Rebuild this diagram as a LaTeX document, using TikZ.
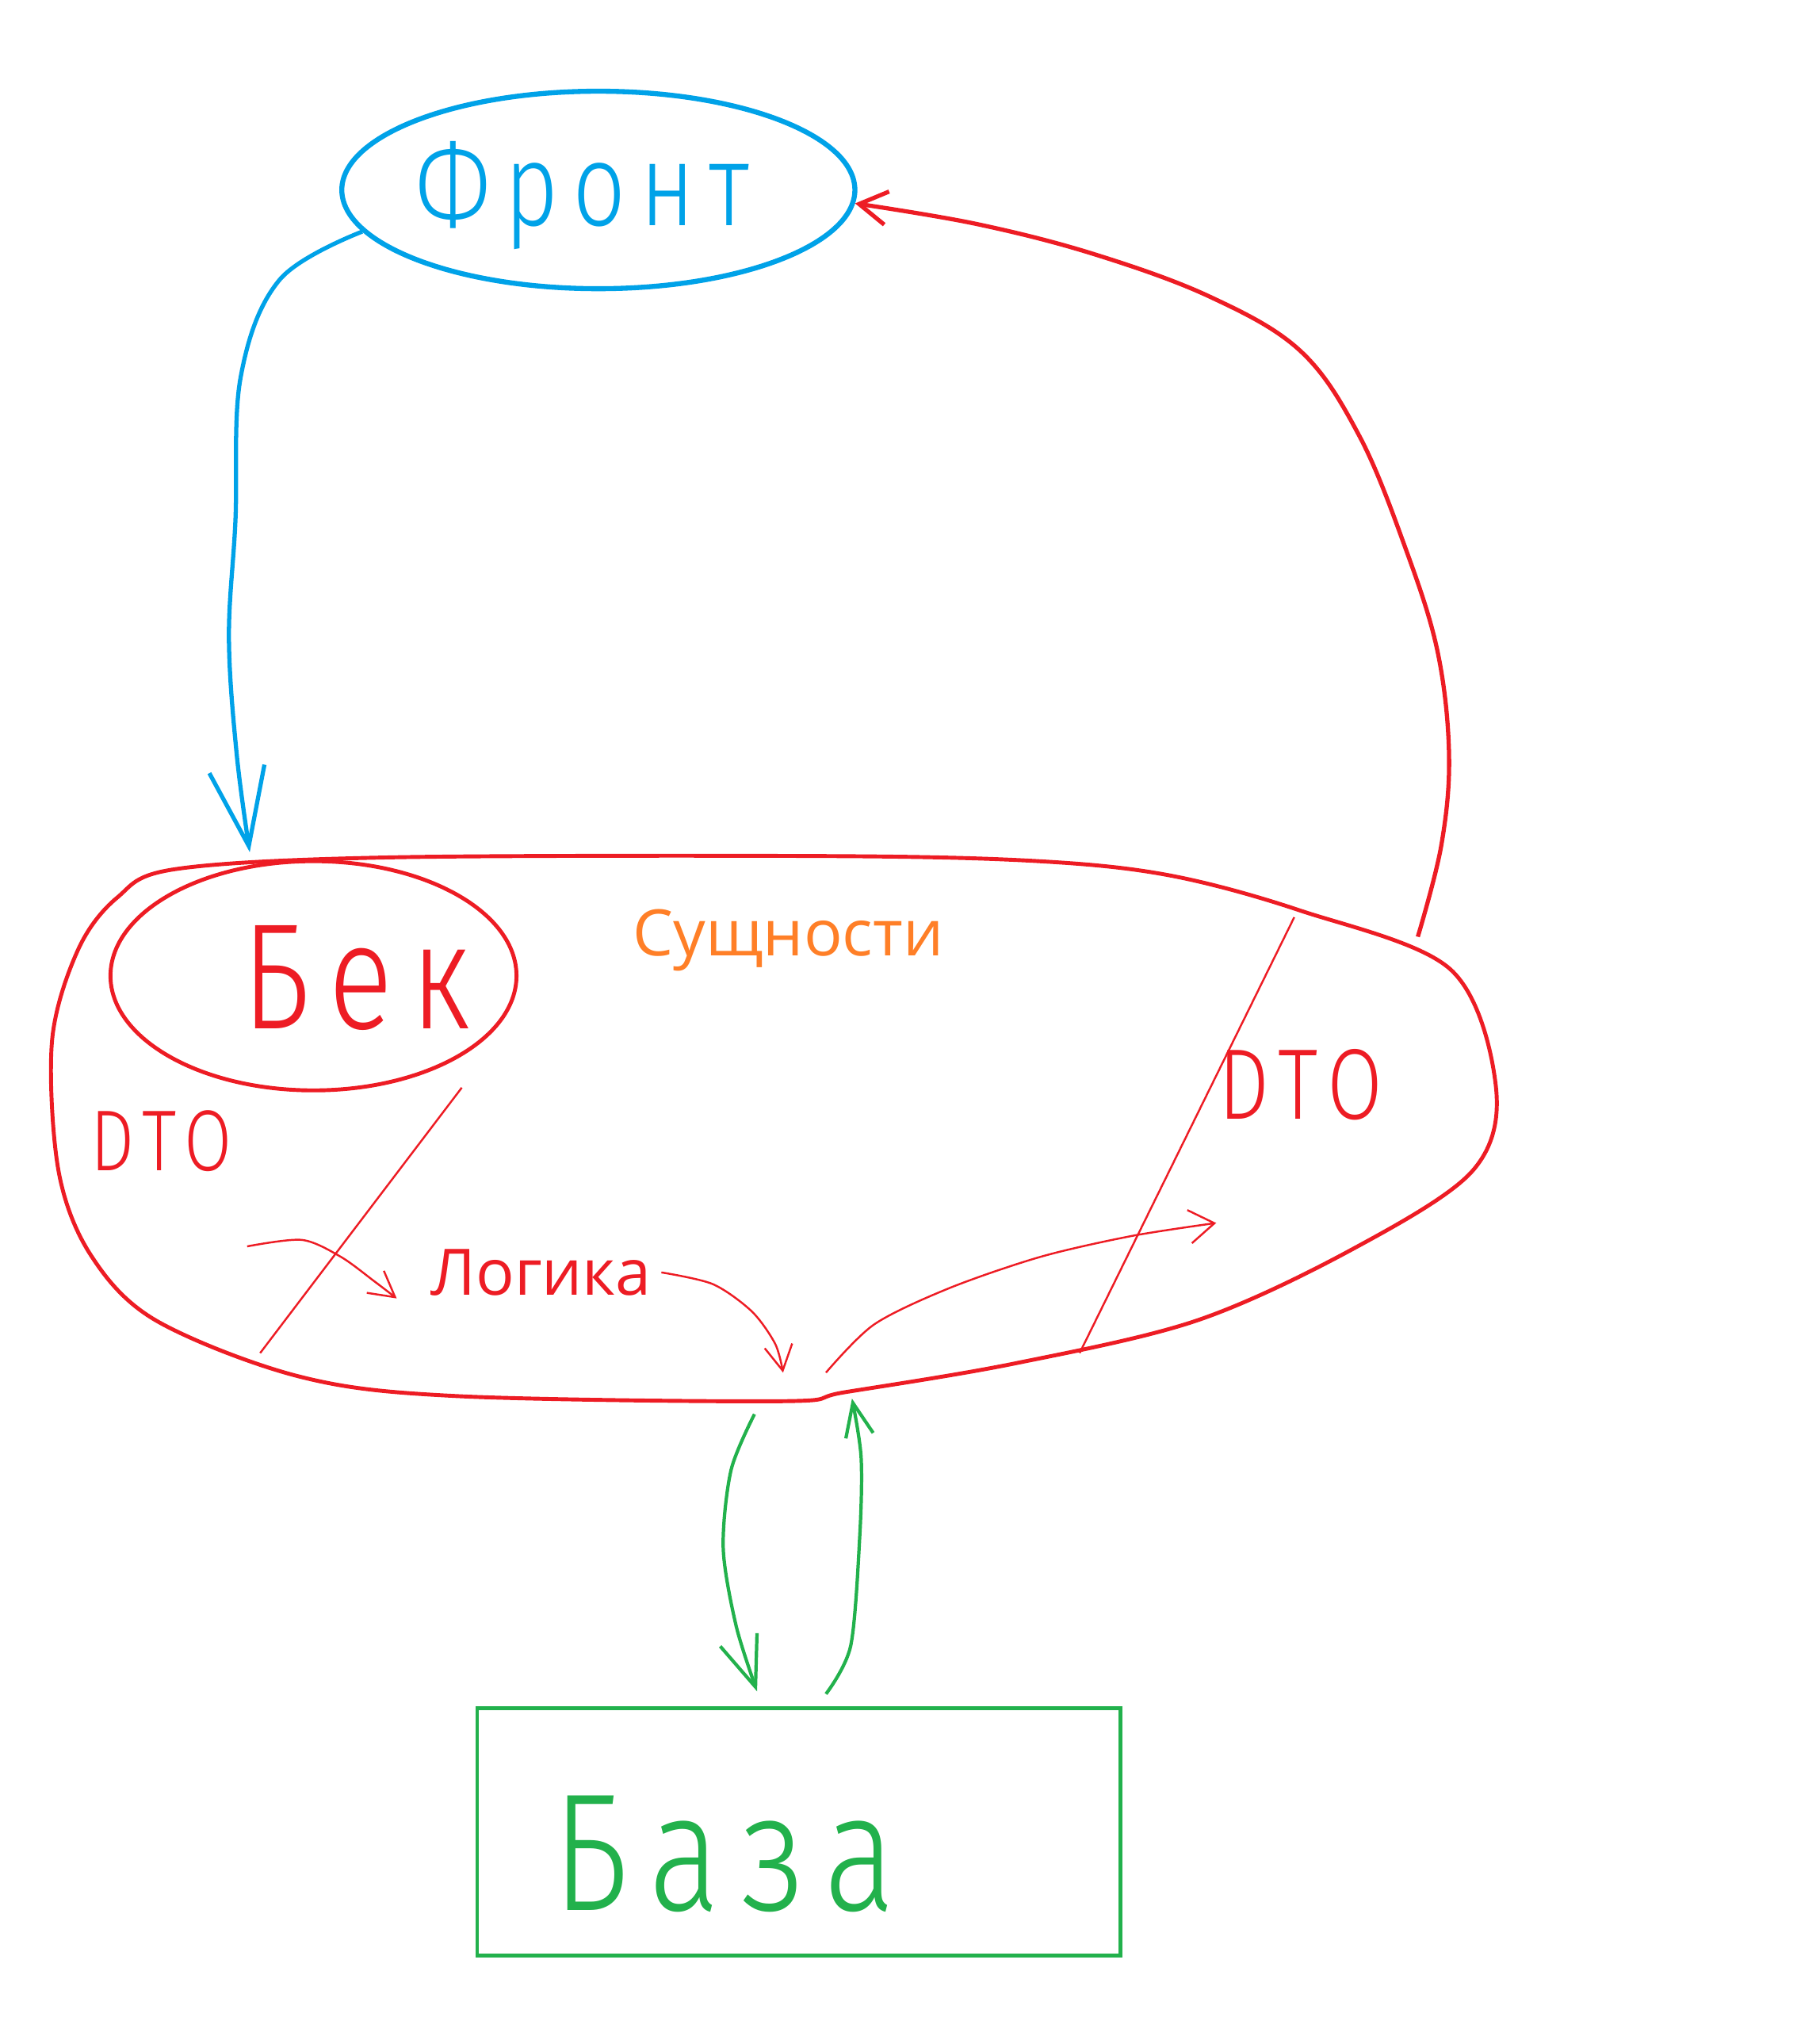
\documentclass[tikz,border=0pt]{standalone}
\usepackage{fontspec}
\setmainfont{Open Sans}
\newfontfamily\handfont{Fira Sans Light}[FakeStretch=0.8, LetterSpace=12]
\usetikzlibrary{arrows.meta,shapes.geometric}
\definecolor{paintblue}{HTML}{00A2E8}
\definecolor{paintred}{HTML}{ED1C24}
\definecolor{paintgreen}{HTML}{22B14C}
\definecolor{paintorange}{HTML}{FF7F27}
\begin{document}
\begin{tikzpicture}[x=0.01641cm, y=-0.01641cm,
    hand/.style={font=\handfont\fontsize{#1}{#1}\selectfont},
    thinred/.style={paintred, line width=0.7pt},
    label/.style={font=\fontsize{23}{27}\selectfont}]
    \useasboundingbox (0,0) rectangle (1399,1568);

    % Front
    \node[ellipse, draw=paintblue, line width=1.8pt, minimum width=6.47cm, minimum height=2.49cm] (front) at (460,146) {};
    \node[hand=42, paintblue] (fronttext) at (448,150) {Фронт};

    % Back: outer blob with entities, logic and DTO
    \draw[paintred, line width=1.4pt] plot[smooth cycle, tension=0.55] coordinates {
        (135,668) (300,659) (640,658) (800,662) (900,673) (1000,700) (1115,745)
        (1150,835) (1132,900) (1040,960) (920,1015) (780,1048)
        (650,1070) (600,1077) (350,1073) (230,1058) (120,1015) (70,965)
        (45,900) (40,800) (60,730) (90,690)};
    \node[ellipse, draw=paintred, line width=1.4pt, minimum width=5.12cm, minimum height=2.89cm] (back) at (241,750) {};
    \node[hand=54, paintred] (backtext) at (274,752) {Бек};
    \node[label, paintorange] (entities) at (606,723) {Сущности};
    \node[label, paintred] (logic) at (416,978) {Логика};
    \node[hand=31, paintred] (dtoleft) at (124,877) {DTO};
    \node[hand=36, paintred] (dtoright) at (1000,834) {DTO};
    \draw[thinred] (355,836) -- (200,1040);
    \draw[thinred] (995,705) -- (830,1040);

    % Base
    \node[draw=paintgreen, line width=1.3pt, minimum width=8.11cm, minimum height=3.12cm] (base) at (614,1408) {};
    \node[hand=60, paintgreen] (basetext) at (557,1425) {База};

    % connectors
    \coordinate (backin) at (192,655);
    \coordinate (backout) at (1090,720);
    \coordinate (dtoin) at (190,958);
    \coordinate (logicin) at (305,998);
    \coordinate (logicout) at (602,1055);
    \coordinate (dtoout) at (635,1055);
    \coordinate (dtoend) at (935,940);
    \coordinate (dbout) at (580,1087);
    \coordinate (dbin) at (582,1300);
    \coordinate (dbback) at (635,1302);
    \coordinate (backbottom) at (655,1075);

    \draw[paintblue, line width=1.5pt, -{Straight Barb[length=28pt,width=20pt]}]
        plot[smooth, tension=0.6] coordinates {(front.190) (215,215) (185,290) (181,400) (176,490) (182,580) (backin)};
    \draw[paintred, line width=1.5pt, -{Straight Barb[length=10pt,width=12pt]}]
        plot[smooth, tension=0.6] coordinates {(backout) (1108,650) (1114,580) (1105,500) (1080,420) (1045,335) (1000,270) (930,228) (840,195) (750,172) (front.-3)};
    \draw[thinred, -{Straight Barb[length=9pt,width=10pt]}]
        plot[smooth] coordinates {(dtoin) (232,953) (262,966) (288,985) (logicin)};
    \draw[thinred, -{Straight Barb[length=9pt,width=10pt]}]
        plot[smooth] coordinates {(logic.east) (548,987) (578,1008) (596,1033) (logicout)};
    \draw[thinred, -{Straight Barb[length=9pt,width=12pt]}]
        plot[smooth] coordinates {(dtoout) (672,1018) (730,990) (800,966) (870,950) (dtoend)};

    \draw[paintgreen, line width=1.2pt, -{Straight Barb[length=18pt,width=14pt]}]
        plot[smooth] coordinates {(dbout) (562,1130) (556,1190) (566,1250) (dbin)};
    \draw[paintgreen, line width=1.2pt, -{Straight Barb[length=12pt,width=10pt]}]
        plot[smooth] coordinates {(dbback) (654,1265) (661,1180) (662,1120) (backbottom)};
\end{tikzpicture}
\end{document}
